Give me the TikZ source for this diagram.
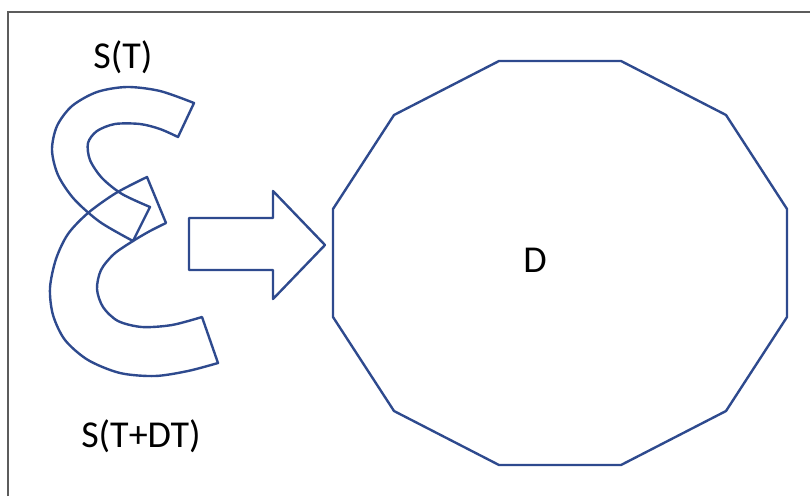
\documentclass[tikz,border=0pt]{standalone}
\usepackage{fontspec}
\setmainfont{Carlito}
\usepackage{tikz}
\definecolor{outlineblue}{HTML}{2E4A8E}
\definecolor{framegray}{HTML}{5C5C5C}
\tikzset{
  outline/.style={draw=outlineblue, line width=2.4, line join=round},
  bigtext/.style={anchor=base, inner sep=0, font=\fontsize{38}{44}\selectfont}
}

\begin{document}
\begin{tikzpicture}[x=1pt,y=-1pt]
    \useasboundingbox (0,0) rectangle (810,496);

    % frame
    \draw[framegray, line width=1.5] (8,496) -- (8,12) -- (810,12);

    % upper C
    \draw[outline] plot[smooth] coordinates {(194,103) (160,91) (127,87) (97,92) (72,106) (57,126) (52,150) (58,175) (74,199) (100,222) (133,241)}
      -- plot[smooth] coordinates {(150,207) (122,194) (102,178) (90,160) (88,143) (97,131) (115,124) (140,124) (160,129) (178,137)}
      -- cycle;

    % lower C
    \draw[outline] plot[smooth] coordinates {(147,177) (116,193) (88,213) (68,234) (56,259) (50,288) (53,315) (65,340) (88,360) (120,373) (155,376) (188,371) (218,363)}
      -- plot[smooth] coordinates {(202,317) (172,325) (142,327) (118,321) (103,307) (97,289) (101,270) (114,254) (133,241) (150,231) (166,223)}
      -- cycle;

    % block arrow
    \draw[outline] (189,218) -- (273,218) -- (273,191) -- (325,245) -- (273,299) -- (273,270) -- (189,270) -- cycle;

    % D
    \draw[outline] (787,209) -- (726,115) -- (621,61) -- (499,61) -- (394,115) -- (333,209)
      -- (333,317) -- (394,411) -- (499,465) -- (621,465) -- (726,411) -- (787,317) -- cycle;

    \node[bigtext] (st) at (123,68) {S(T)};
    \node[bigtext] (stdt) at (141,447) {S(T+DT)};
    \node[bigtext] (d) at (535,272) {D};

\end{tikzpicture}
\end{document}
